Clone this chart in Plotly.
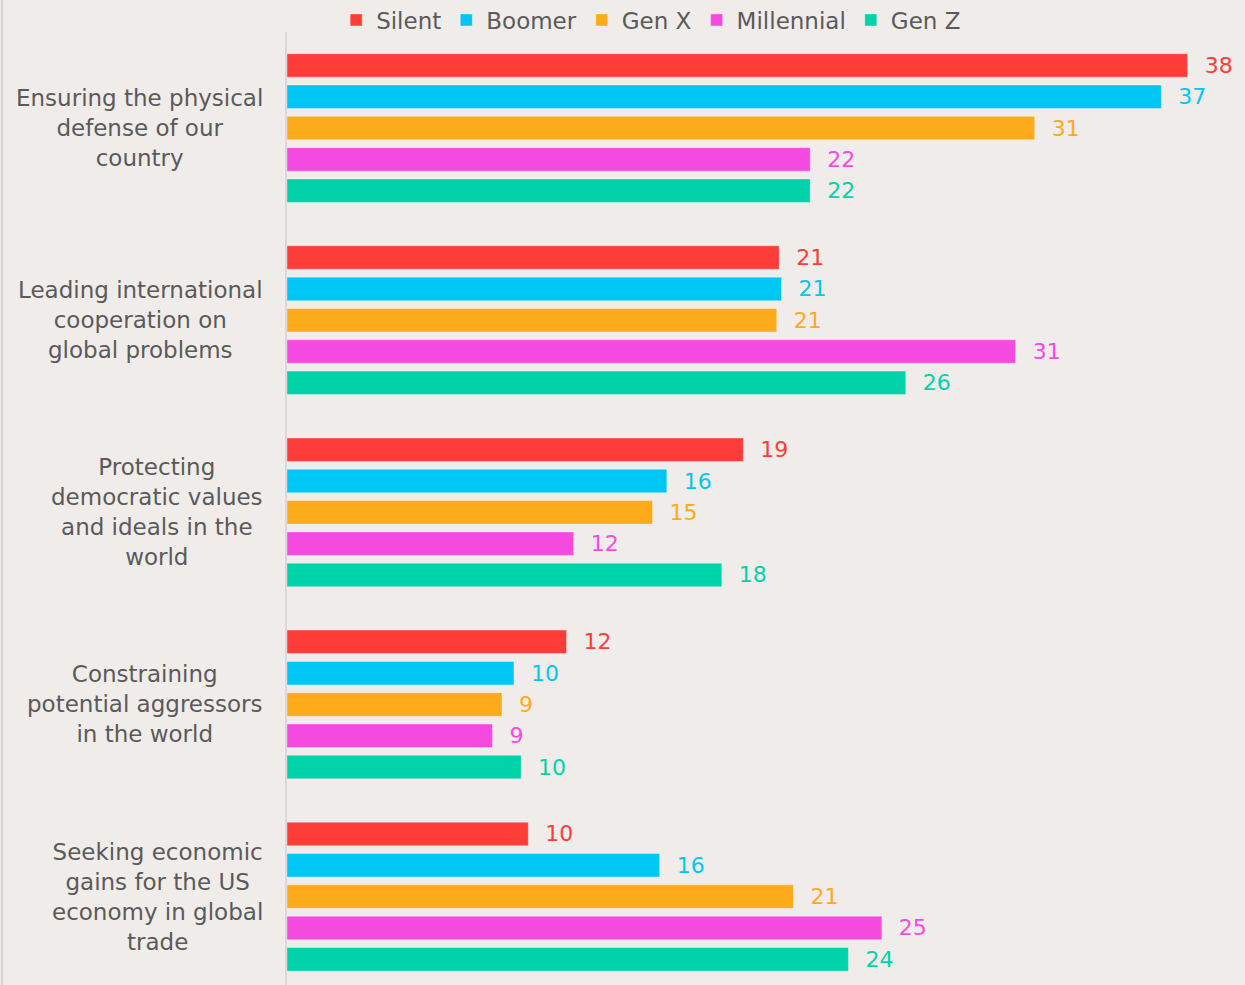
import plotly.graph_objects as go

categories = [
    "Ensuring the physical<br>defense of our<br>country",
    "Leading international<br>cooperation on<br>global problems",
    "Protecting<br>democratic values<br>and ideals in the<br>world",
    "Constraining<br>potential aggressors<br>in the world",
    "Seeking economic<br>gains for the US<br>economy in global<br>trade",
]
cat_keys = ["c1", "c2", "c3", "c4", "c5"]

series_names = ["Silent", "Boomer", "Gen X", "Millennial", "Gen Z"]
colors = ["#ff3d38", "#00c6f3", "#fdab1b", "#f54ae0", "#00d2a9"]

silent = [37.7, 20.6, 19.1, 11.7, 10.1]
boomer = [36.6, 20.7, 15.9, 9.5, 15.6]
genx = [31.3, 20.5, 15.3, 9.0, 21.2]
millennial = [21.9, 30.5, 12.0, 8.6, 24.9]
genz = [21.9, 25.9, 18.2, 9.8, 23.5]

silent_lbl = ["38", "21", "19", "12", "10"]
boomer_lbl = ["37", "21", "16", "10", "16"]
genx_lbl = ["31", "21", "15", "9", "21"]
millennial_lbl = ["22", "31", "12", "9", "25"]
genz_lbl = ["22", "26", "18", "10", "24"]

values = [silent, boomer, genx, millennial, genz]
labels = [silent_lbl, boomer_lbl, genx_lbl, millennial_lbl, genz_lbl]

FONT = "DejaVu Sans"
TXT = "#5a5a5a"
PAD = "\u00a0\u00a0"

fig = go.Figure()
for name, col, v, l in zip(series_names, colors, values, labels):
    fig.add_trace(go.Bar(
        y=cat_keys, x=v, name=name, orientation="h",
        marker=dict(color=col, line=dict(color="rgba(255,255,255,0.35)", width=1)),
        text=[PAD + t for t in l], textposition="outside", cliponaxis=False,
        constraintext="none",
        textfont=dict(color=col, size=22, family=FONT),
        hoverinfo="skip",
    ))

for key, cat in zip(cat_keys, categories):
    fig.add_annotation(
        x=-22 / 958, y=key, xref="paper", yref="y", text=cat, showarrow=False,
        xanchor="right", yanchor="middle", align="center",
        font=dict(size=23, family=FONT, color=TXT),
    )

fig.update_layout(
    width=1245, height=985,
    margin=dict(l=287, r=0, t=32, b=0, autoexpand=False),
    paper_bgcolor="#f0ece9", plot_bgcolor="#f0ece9",
    barmode="group", bargap=0.185, bargroupgap=0.25,
    font=dict(family=FONT, color=TXT, size=22),
    legend=dict(
        orientation="h", x=0.523, xanchor="center", y=1 - 20 / 985, yanchor="middle",
        yref="container", xref="container", font=dict(size=23, family=FONT, color=TXT),
        itemwidth=30, traceorder="normal", bgcolor="rgba(0,0,0,0)",
    ),
    xaxis=dict(range=[0, 40.1], showgrid=False, zeroline=False,
               showticklabels=False, showline=False, fixedrange=True),
    yaxis=dict(range=[4.46, -0.5], showgrid=False, zeroline=False,
               showticklabels=False, showline=True, linecolor="#d9d9d9",
               linewidth=2, fixedrange=True),
    shapes=[dict(type="line", xref="paper", yref="paper", x0=-285/958, x1=-285/958,
                 y0=-0.05, y1=1.05, line=dict(color="#d4d4d4", width=2))],
)

fig.write_html("out.html")
